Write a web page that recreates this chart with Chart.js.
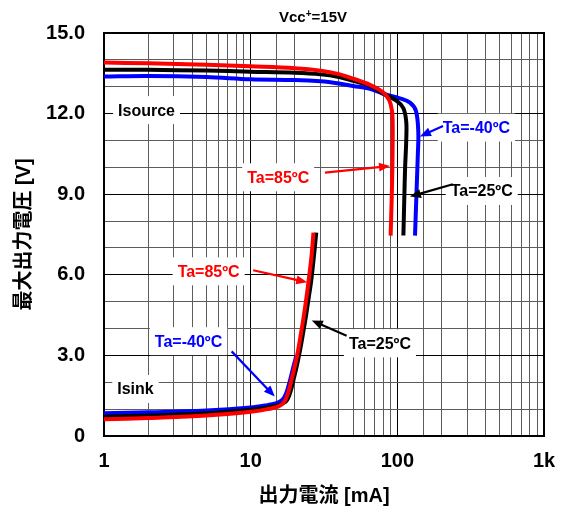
<!DOCTYPE html>
<html>
<head>
<meta charset="utf-8">
<script src="https://cdn.jsdelivr.net/npm/chart.js@4/dist/chart.umd.min.js"></script>
<style>
  html, body { margin: 0; padding: 0; background: #fff; }
  #wrap { width: 562px; height: 514px; position: relative; }
</style>
</head>
<body>
<div id="wrap"><canvas id="c"></canvas></div>
<script>
const FONT = '"Liberation Sans", Arial, "Noto Sans CJK JP", sans-serif';

// Isource: maximum output voltage vs. source current [mA]
const srcI_85  = [1, 2, 5, 10, 20, 30, 40, 50, 65, 80, 88, 92, 93, 92.5, 91.5, 90];
const srcV_85  = [13.9, 13.87, 13.82, 13.76, 13.69, 13.6, 13.47, 13.3, 13.07, 12.79, 12.5, 12.1, 11.5, 10.0, 8.8, 7.46];
const srcI_25  = [1, 2, 5, 10, 20, 30, 40, 50, 65, 80, 99, 110, 115, 115, 113, 111.5, 110];
const srcV_25  = [13.63, 13.63, 13.6, 13.56, 13.52, 13.46, 13.36, 13.22, 13.03, 12.75, 12.47, 12.2, 11.7, 11.0, 10.0, 8.8, 7.46];
const srcI_m40 = [1, 2, 5, 10, 20, 30, 40, 50, 65, 80, 104, 122, 134, 139, 138, 135, 132];
const srcV_m40 = [13.38, 13.4, 13.36, 13.28, 13.25, 13.2, 13.12, 13.03, 12.92, 12.74, 12.57, 12.41, 12.1, 11.3, 10.5, 9.0, 7.46];

// Isink: output voltage vs. sink current [mA]
const snkI_85  = [1, 2, 5, 10, 13, 15.5, 17, 18, 19, 20, 21, 22, 23, 24, 25, 26, 26.8];
const snkV_85  = [0.62, 0.67, 0.76, 0.9, 1.0, 1.1, 1.28, 1.6, 2.1, 2.6, 3.15, 3.8, 4.45, 5.15, 5.9, 6.7, 7.57];
const snkI_25  = [1, 2, 5, 10, 13, 15.5, 17.5, 18.8, 19.8, 20.8, 21.8, 22.8, 23.8, 24.8, 25.9, 27, 28];
const snkV_25  = [0.72, 0.76, 0.85, 0.98, 1.06, 1.15, 1.3, 1.7, 2.2, 2.7, 3.25, 3.85, 4.45, 5.1, 5.8, 6.7, 7.57];
const snkI_m40 = [1, 2, 5, 10, 13, 15, 16.5, 17.5, 18.5, 19.5, 20.5];
const snkV_m40 = [0.85, 0.88, 0.95, 1.06, 1.15, 1.22, 1.35, 1.6, 2.05, 2.55, 3.0];

// Axis ticks
const xMajorTicks = [1, 10, 100, 1000];
const xTickLabels = ['1', '10', '100', '1k'];
const yMajorTicks = [0, 3, 6, 9, 12, 15];
const yTickLabels = ['0', '3.0', '6.0', '9.0', '12.0', '15.0'];

// Callouts: text, colour, label centre (mA, V), arrow tail and tip (mA, V)
const calloutText  = ['Isource', 'Isink', 'Ta=85ºC', 'Ta=-40ºC', 'Ta=25ºC', 'Ta=85ºC', 'Ta=25ºC', 'Ta=-40ºC'];
const calloutColor = ['#000', '#000', '#ff0000', '#0000ff', '#000', '#ff0000', '#000', '#0000ff'];
const calloutX     = [1.95, 1.64, 15.4, 346, 376, 5.17, 76.1, 3.77];
const calloutY     = [12.13, 1.75, 9.63, 11.48, 9.12, 6.13, 3.45, 3.53];
const arrowFromX   = [null, null, 32.1, 205, 239, 10.4, 45.1, 7.42];
const arrowFromY   = [null, null, 9.80, 11.54, 9.37, 6.17, 3.73, 3.15];
const arrowToX     = [null, null, 89.1, 142.6, 121.9, 24.3, 26.1, 14.6];
const arrowToY     = [null, null, 10.05, 11.15, 8.91, 5.72, 4.30, 1.47];

const pts = (xs, ys) => xs.map((x, i) => ({ x: x, y: ys[i] }));

const RED = '#ff0000', BLACK = '#000000', BLUE = '#0000ff';
const lineStyle = { borderWidth: 4, pointRadius: 0, pointHoverRadius: 0, fill: false,
                    tension: 0.35, borderCapStyle: 'butt', borderJoinStyle: 'round' };

const isMajorX = v => xMajorTicks.some(m => Math.abs(v - m) < 1e-6 * m);
const isMajorY = v => yMajorTicks.some(m => Math.abs(v - m) < 1e-6);

function drawArrow(ctx, x1, y1, x2, y2, color) {
  const ang = Math.atan2(y2 - y1, x2 - x1);
  const head = 11, half = 4.5;
  ctx.save();
  ctx.strokeStyle = color; ctx.fillStyle = color; ctx.lineWidth = 2.2;
  ctx.beginPath();
  ctx.moveTo(x1, y1);
  ctx.lineTo(x2 - Math.cos(ang) * head * 0.8, y2 - Math.sin(ang) * head * 0.8);
  ctx.stroke();
  ctx.beginPath();
  ctx.moveTo(x2, y2);
  ctx.lineTo(x2 - Math.cos(ang) * head - Math.sin(ang) * half, y2 - Math.sin(ang) * head + Math.cos(ang) * half);
  ctx.lineTo(x2 - Math.cos(ang) * head + Math.sin(ang) * half, y2 - Math.sin(ang) * head - Math.cos(ang) * half);
  ctx.closePath();
  ctx.fill();
  ctx.restore();
}

const decorations = {
  id: 'decorations',
  beforeDatasetsDraw(chart) {
    const { ctx, chartArea: a, scales: { x, y } } = chart;
    ctx.save();
    // plot frame
    ctx.strokeStyle = '#000'; ctx.lineWidth = 2;
    ctx.strokeRect(a.left, a.top, a.right - a.left, a.bottom - a.top);
    // white boxes behind callout texts
    ctx.font = 'bold 16px ' + FONT;
    calloutText.forEach((t, i) => {
      const cx = x.getPixelForValue(calloutX[i]), cy = y.getPixelForValue(calloutY[i]);
      const w = ctx.measureText(t).width;
      ctx.fillStyle = '#fff';
      ctx.fillRect(cx - w / 2 - 5, cy - 14, w + 10, 28);
    });
    ctx.restore();
  },
  afterDatasetsDraw(chart) {
    const { ctx, chartArea: a, scales: { x, y } } = chart;
    ctx.save();
    ctx.font = 'bold 16px ' + FONT;
    ctx.textAlign = 'center';
    ctx.textBaseline = 'middle';
    calloutText.forEach((t, i) => {
      ctx.fillStyle = calloutColor[i];
      ctx.fillText(t, x.getPixelForValue(calloutX[i]), y.getPixelForValue(calloutY[i]) + 1);
      if (arrowFromX[i] !== null) {
        drawArrow(ctx,
          x.getPixelForValue(arrowFromX[i]), y.getPixelForValue(arrowFromY[i]),
          x.getPixelForValue(arrowToX[i]), y.getPixelForValue(arrowToY[i]),
          calloutColor[i]);
      }
    });
    // supply condition heading
    const tx = (a.left + a.right) / 2 - 11, ty = a.top - 15;
    const p1 = 'Vcc', p2 = '+', p3 = '=15V';
    ctx.font = 'bold 15px ' + FONT;
    const w1 = ctx.measureText(p1).width, w3 = ctx.measureText(p3).width;
    ctx.font = 'bold 10px ' + FONT;
    const w2 = ctx.measureText(p2).width;
    let sx = tx - (w1 + w2 + w3) / 2;
    ctx.textAlign = 'left';
    ctx.fillStyle = '#000';
    ctx.font = 'bold 15px ' + FONT;
    ctx.fillText(p1, sx, ty);
    ctx.font = 'bold 10px ' + FONT;
    ctx.fillText(p2, sx + w1, ty - 4);
    ctx.font = 'bold 15px ' + FONT;
    ctx.fillText(p3, sx + w1 + w2, ty);
    ctx.restore();
  }
};

new Chart(document.getElementById('c'), {
  type: 'line',
  data: {
    datasets: [
      Object.assign({ label: 'Isource 85', data: pts(srcI_85, srcV_85), borderColor: RED }, lineStyle),
      Object.assign({ label: 'Isink 85', data: pts(snkI_85, snkV_85), borderColor: RED }, lineStyle),
      Object.assign({ label: 'Isource 25', data: pts(srcI_25, srcV_25), borderColor: BLACK }, lineStyle),
      Object.assign({ label: 'Isink 25', data: pts(snkI_25, snkV_25), borderColor: BLACK }, lineStyle),
      Object.assign({ label: 'Isource -40', data: pts(srcI_m40, srcV_m40), borderColor: BLUE }, lineStyle),
      Object.assign({ label: 'Isink -40', data: pts(snkI_m40, snkV_m40), borderColor: BLUE }, lineStyle)
    ]
  },
  options: {
    responsive: true,
    maintainAspectRatio: false,
    animation: false,
    events: [],
    layout: { padding: { top: 33, right: 18, bottom: 0, left: 0 } },
    plugins: { legend: { display: false }, tooltip: { enabled: false }, title: { display: false } },
    scales: {
      x: {
        type: 'logarithmic',
        min: 1, max: 1000,
        afterFit: s => { s.height = 78; s.paddingLeft = 0; s.paddingRight = 0; },
        border: { display: true, color: '#000', width: 2 },
        grid: {
          drawTicks: false,
          color: c => isMajorX(c.tick.value) ? '#000' : '#5c5c5c',
          lineWidth: 1
        },
        ticks: {
          autoSkip: false, maxRotation: 0, minRotation: 0, padding: 13,
          color: '#000',
          font: { family: FONT, size: 20, weight: 'bold' },
          callback: v => { const k = xMajorTicks.findIndex(m => Math.abs(v - m) < 1e-6 * m); return k >= 0 ? xTickLabels[k] : ''; }
        },
        title: {
          display: true, text: '出力電流 [mA]', color: '#000',
          font: { family: FONT, size: 20, weight: 'bold' },
          padding: { top: 0, bottom: 6 }
        }
      },
      y: {
        type: 'linear',
        min: 0, max: 15,
        afterFit: s => { s.width = 104; s.paddingTop = 0; s.paddingBottom = 0; },
        border: { display: true, color: '#000', width: 2 },
        grid: {
          drawTicks: false,
          color: c => isMajorY(c.tick.value) ? '#000' : '#5c5c5c',
          lineWidth: 1
        },
        ticks: {
          stepSize: 1, autoSkip: false, padding: 19,
          color: '#000',
          font: { family: FONT, size: 20, weight: 'bold' },
          callback: v => { const k = yMajorTicks.findIndex(m => Math.abs(v - m) < 1e-6); return k >= 0 ? yTickLabels[k] : ''; }
        },
        title: {
          display: true, text: '最大出力電圧 [V]', color: '#000',
          font: { family: FONT, size: 20, weight: 'bold' },
          padding: { top: 12, bottom: 0 }
        }
      }
    }
  },
  plugins: [decorations]
});
</script>
</body>
</html>
